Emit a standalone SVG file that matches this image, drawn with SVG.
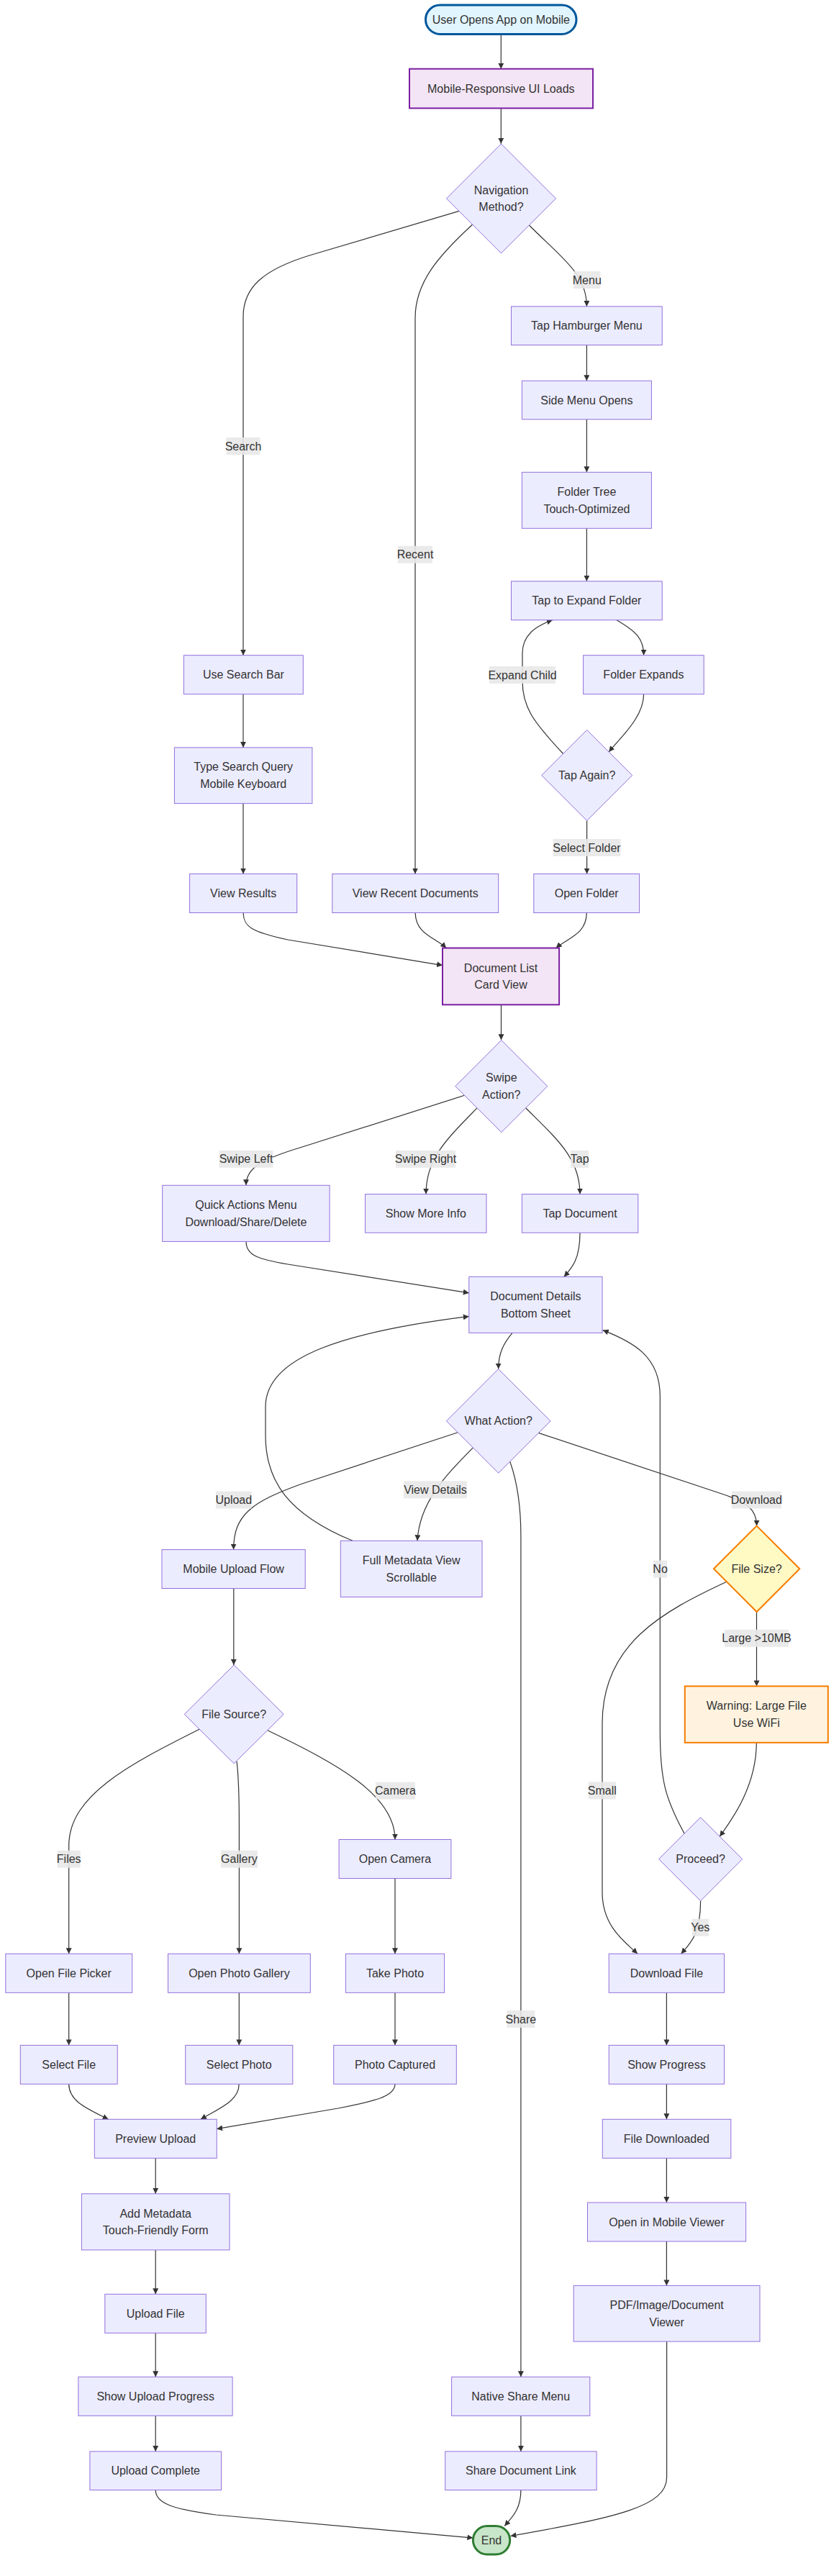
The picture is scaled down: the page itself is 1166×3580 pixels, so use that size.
<svg xmlns="http://www.w3.org/2000/svg" width="1166" height="3580" viewBox="0 0 1166 3580">
<style>
.n rect,.n polygon{fill:#ECECFF;stroke:#9370DB;stroke-width:1}
text{font-family:"trebuchet ms","Liberation Sans",Arial,sans-serif;font-size:16px;fill:#333;text-anchor:middle;dominant-baseline:central}
.e path{fill:none;stroke:#333;stroke-width:1.2;marker-end:url(#arr)}
.lb rect{fill:#e8e8e8;fill-opacity:0.9;stroke:none}
</style>
<defs>
<marker id="arr" viewBox="0 0 10 10" refX="10" refY="5" markerUnits="userSpaceOnUse" markerWidth="8" markerHeight="8" orient="auto"><path d="M0,0 L10,5 L0,10 z" fill="#333"/></marker>
</defs>
<rect width="1166" height="3580" fill="#ffffff"/>
<g id="edges" class="e">
<path d="M696.3,47.4 L696.3,95.7"/>
<path d="M696.3,150.4 L696.3,199.7"/>
<path d="M638,293.4 L430,355 C365,375 338,400 338,440 L338,910.7"/>
<path d="M656.6,312 C610,355 577,392 577,442 L577,1214.5"/>
<path d="M735.4,313 C780,358 815.4,380 815.4,425.9"/>
<path d="M815.4,479.5 L815.4,529.2"/>
<path d="M815.4,582.8 L815.4,656.3"/>
<path d="M815.4,734.3 L815.4,807.8"/>
<path d="M857,861.7 C885,878 894.6,888 894.6,910.7"/>
<path d="M894.6,964.7 C894.6,997 862,1025 846.2,1045"/>
<path d="M782.7,1047.5 C740,1002 726,982 726,946 L726,908 C726,882 745,870 767.8,861.7"/>
<path d="M815.6,1140.5 L815.6,1214.5"/>
<path d="M338,964.7 L338,1038.9"/>
<path d="M338,1116.6 L338,1214.5"/>
<path d="M338.2,1268.5 C338,1288 350,1295 400,1306 L615,1341.6"/>
<path d="M577.2,1268.5 C577.2,1298 605,1303 620.2,1317.5"/>
<path d="M815.2,1268.5 C815.2,1298 790,1303 772.6,1317.5"/>
<path d="M696.5,1396.3 L696.5,1445.3"/>
<path d="M645.5,1522.3 L420,1594 C360,1612 342,1624 342,1647.3"/>
<path d="M663,1539.8 C620,1584 592,1610 592,1659.6"/>
<path d="M730.6,1539.8 C775,1584 806,1610 806,1659.6"/>
<path d="M342,1725.4 C342,1745 360,1750 400,1757 L651.8,1796.9"/>
<path d="M806,1713.2 C806,1750 795,1762 783.8,1774.4"/>
<path d="M712,1852.4 C700,1867 692.7,1880 692.7,1902.6"/>
<path d="M636.2,1990.7 L420,2062 C350,2087 324.6,2105 324.6,2153.6"/>
<path d="M657.4,2011.9 C620,2050 583,2087 580,2141.3"/>
<path d="M490,2141.3 C400,2104 369,2058 369,1995 L369,1955 C369,1885 480,1851 651.8,1829.4"/>
<path d="M708.7,2031.2 C718,2057 723.9,2088 723.9,2135 L723.9,3303.3"/>
<path d="M748.5,1991.4 L1000,2075 C1040,2088 1051.6,2098 1051.6,2120.7"/>
<path d="M1051.5,2240 L1051.5,2343.4"/>
<path d="M1009.8,2198.2 C920,2240 837,2285 837,2395 L837,2630 C837,2678 870,2700 886,2715.3"/>
<path d="M1051.3,2421.8 C1051.3,2480 1020,2525 1000.2,2552.3"/>
<path d="M951.1,2548.2 C925,2500 917.3,2475 917.3,2405 L917.3,1940 C917.3,1885 880,1865 837.7,1848.6"/>
<path d="M973.6,2641.8 C973.6,2688 960,2700 946.6,2715.3"/>
<path d="M926.4,2769.3 L926.4,2842.4"/>
<path d="M926.4,2896.3 L926.4,2945.3"/>
<path d="M926.4,2999.3 L926.4,3061"/>
<path d="M926.4,3115 L926.4,3176.4"/>
<path d="M926.6,3254.1 L926.6,3443 C926.6,3483 860,3498 709.4,3524.5"/>
<path d="M723.9,3357.3 L723.9,3406.9"/>
<path d="M723.9,3460.5 C723.9,3487 712,3498 701.2,3510.5"/>
<path d="M216.2,3460.5 C216.2,3479 240,3487 300,3495 L657.4,3527.1"/>
<path d="M324.8,2207.5 L324.8,2313.9"/>
<path d="M277,2403.2 C180,2452 95.7,2495 95.7,2565 L95.7,2715.3"/>
<path d="M329,2447.8 C332,2472 332.4,2495 332.4,2535 L332.4,2715.3"/>
<path d="M371.8,2404.8 C470,2452 549,2495 549,2556.5"/>
<path d="M95.7,2769.3 L95.7,2842.4"/>
<path d="M332.3,2769.3 L332.3,2842.4"/>
<path d="M549,2610.5 L549,2715.3"/>
<path d="M549,2769.3 L549,2842.4"/>
<path d="M95.7,2896.3 C95.7,2920 120,2930 150.6,2945.3"/>
<path d="M332.2,2896.3 C332.2,2920 305,2930 278.9,2945.3"/>
<path d="M549,2896.3 C549,2914 520,2920 470,2930 L301.2,2958.7"/>
<path d="M216.2,2999.3 L216.2,3048.8"/>
<path d="M216.2,3126.9 L216.2,3188.3"/>
<path d="M216.2,3242.3 L216.2,3303.3"/>
<path d="M216.2,3357.3 L216.2,3406.9"/>
</g>
<g id="edge-labels" class="lb">
<g><rect x="797" y="377" width="37.5" height="24"/><text x="815.8" y="389">Menu</text></g>
<g><rect x="314.5" y="608" width="47" height="24"/><text x="338" y="620">Search</text></g>
<g><rect x="553" y="758.7" width="48" height="24"/><text x="577" y="770.7">Recent</text></g>
<g><rect x="680" y="926" width="92" height="24"/><text x="726" y="938">Expand Child</text></g>
<g><rect x="768.5" y="1166" width="94" height="24"/><text x="815.5" y="1178">Select Folder</text></g>
<g><rect x="304.5" y="1598.8" width="75" height="24"/><text x="342" y="1610.8">Swipe Left</text></g>
<g><rect x="550" y="1598.8" width="83" height="24"/><text x="591.5" y="1610.8">Swipe Right</text></g>
<g><rect x="793.2" y="1598.8" width="25" height="24"/><text x="805.7" y="1610.8">Tap</text></g>
<g><rect x="300" y="2072.5" width="49.5" height="24"/><text x="324.8" y="2084.5">Upload</text></g>
<g><rect x="561" y="2058.3" width="88" height="24"/><text x="605" y="2070.3">View Details</text></g>
<g><rect x="1016.8" y="2072.5" width="69" height="24"/><text x="1051.3" y="2084.5">Download</text></g>
<g><rect x="908" y="2168.6" width="19" height="24"/><text x="917.6" y="2180.6">No</text></g>
<g><rect x="1007" y="2264.8" width="89" height="24"/><text x="1051.5" y="2276.8">Large &gt;10MB</text></g>
<g><rect x="704.4" y="2794" width="39" height="24"/><text x="723.9" y="2806">Share</text></g>
<g><rect x="817.8" y="2476.4" width="38" height="24"/><text x="836.8" y="2488.4">Small</text></g>
<g><rect x="961.8" y="2666.8" width="23" height="24"/><text x="973.3" y="2678.8">Yes</text></g>
<g><rect x="79.7" y="2571.7" width="32" height="24"/><text x="95.7" y="2583.7">Files</text></g>
<g><rect x="306.9" y="2571.7" width="51" height="24"/><text x="332.4" y="2583.7">Gallery</text></g>
<g><rect x="521.9" y="2476.6" width="55" height="24"/><text x="549.4" y="2488.6">Camera</text></g>
</g>
<g id="start" class="n"><rect x="591.5" y="6.9" width="209.5" height="40.5" rx="20.2" style="fill:#e1f5fe;stroke:#01579b;stroke-width:3"/><text x="696.3" y="27.2">User Opens App on Mobile</text></g>
<g id="uiLoads" class="n"><rect x="569" y="95.7" width="255" height="54.7" style="fill:#f3e5f5;stroke:#7b1fa2;stroke-width:2"/><text x="696.3" y="123">Mobile-Responsive UI Loads</text></g>
<g id="navMethod" class="n"><polygon points="696.5,199.9 772.5,275.9 696.5,351.9 620.5,275.9"/><text x="696.5" y="264">Navigation</text><text x="696.5" y="287.8">Method?</text></g>
<g id="tapHamburger" class="n"><rect x="710.5" y="425.9" width="209.7" height="53.6"/><text x="815.4" y="452.7">Tap Hamburger Menu</text></g>
<g id="sideMenu" class="n"><rect x="725.4" y="529.2" width="180" height="53.6"/><text x="815.4" y="556">Side Menu Opens</text></g>
<g id="folderTree" class="n"><rect x="725.4" y="656.3" width="180" height="78"/><text x="815.4" y="683.4">Folder Tree</text><text x="815.4" y="707.2">Touch-Optimized</text></g>
<g id="tapExpand" class="n"><rect x="710.5" y="807.8" width="209.7" height="53.9"/><text x="815.4" y="834.8">Tap to Expand Folder</text></g>
<g id="folderExpands" class="n"><rect x="810.6" y="910.7" width="167.6" height="54"/><text x="894.4" y="937.7">Folder Expands</text></g>
<g id="tapAgain" class="n"><polygon points="815.7,1014.5 878.7,1077.5 815.7,1140.5 752.7,1077.5"/><text x="815.7" y="1077.5">Tap Again?</text></g>
<g id="useSearch" class="n"><rect x="255.4" y="910.7" width="165.9" height="54"/><text x="338.4" y="937.7">Use Search Bar</text></g>
<g id="typeSearch" class="n"><rect x="242.4" y="1038.9" width="191.5" height="77.7"/><text x="338.2" y="1065.9">Type Search Query</text><text x="338.2" y="1089.7">Mobile Keyboard</text></g>
<g id="viewResults" class="n"><rect x="263.6" y="1214.5" width="149.1" height="54"/><text x="338.2" y="1241.5">View Results</text></g>
<g id="viewRecent" class="n"><rect x="461.8" y="1214.5" width="230.9" height="54"/><text x="577.2" y="1241.5">View Recent Documents</text></g>
<g id="openFolder" class="n"><rect x="741.8" y="1214.5" width="146.8" height="54"/><text x="815.2" y="1241.5">Open Folder</text></g>
<g id="docList" class="n"><rect x="615" y="1317.5" width="162.1" height="78.8" style="fill:#f3e5f5;stroke:#7b1fa2;stroke-width:2"/><text x="696" y="1345">Document List</text><text x="696" y="1368.8">Card View</text></g>
<g id="swipeAction" class="n"><polygon points="696.8,1445.6 760.8,1509.6 696.8,1573.6 632.8,1509.6"/><text x="696.8" y="1497.7">Swipe</text><text x="696.8" y="1521.5">Action?</text></g>
<g id="quickActions" class="n"><rect x="225.7" y="1647.3" width="232.4" height="78.1"/><text x="341.9" y="1674.5">Quick Actions Menu</text><text x="341.9" y="1698.3">Download/Share/Delete</text></g>
<g id="showMoreInfo" class="n"><rect x="507.5" y="1659.6" width="168.5" height="53.6"/><text x="591.8" y="1686.4">Show More Info</text></g>
<g id="tapDocument" class="n"><rect x="725.4" y="1659.6" width="161.4" height="53.6"/><text x="806" y="1686.4">Tap Document</text></g>
<g id="docDetails" class="n"><rect x="651.8" y="1774.4" width="185.2" height="78"/><text x="744.4" y="1801.5">Document Details</text><text x="744.4" y="1825.3">Bottom Sheet</text></g>
<g id="whatAction" class="n"><polygon points="692.7,1902.6 765,1974.9 692.7,2047.2 620.4,1974.9"/><text x="692.7" y="1974.9">What Action?</text></g>
<g id="mobileUpload" class="n"><rect x="225" y="2153.6" width="199.2" height="53.9"/><text x="324.6" y="2180.5">Mobile Upload Flow</text></g>
<g id="fullMetadata" class="n"><rect x="473.3" y="2141.3" width="196.7" height="78.1"/><text x="571.7" y="2168.5">Full Metadata View</text><text x="571.7" y="2192.3">Scrollable</text></g>
<g id="fileSize" class="n"><polygon points="1051.6,2120.6 1111.3,2180.3 1051.6,2240 991.9,2180.3" style="fill:#fff9c4;stroke:#f57c00;stroke-width:2"/><text x="1051.6" y="2180.3">File Size?</text></g>
<g id="warning" class="n"><rect x="951.8" y="2343.4" width="199" height="78.4" style="fill:#fff3e0;stroke:#f57c00;stroke-width:2"/><text x="1051.3" y="2370.7">Warning: Large File</text><text x="1051.3" y="2394.5">Use WiFi</text></g>
<g id="proceed" class="n"><polygon points="973.6,2525.7 1031.6,2583.7 973.6,2641.7 915.6,2583.7"/><text x="973.6" y="2583.7">Proceed?</text></g>
<g id="fileSource" class="n"><polygon points="325.2,2313.9 394.2,2382.4 325.2,2450.9 256.2,2382.4"/><text x="325.2" y="2382.4">File Source?</text></g>
<g id="openCamera" class="n"><rect x="471.1" y="2556.5" width="155.8" height="54"/><text x="549" y="2583.5">Open Camera</text></g>
<g id="openFilePicker" class="n"><rect x="7.8" y="2715.3" width="175.9" height="54"/><text x="95.7" y="2742.3">Open File Picker</text></g>
<g id="openGallery" class="n"><rect x="233.5" y="2715.3" width="197.8" height="54"/><text x="332.4" y="2742.3">Open Photo Gallery</text></g>
<g id="takePhoto" class="n"><rect x="480.4" y="2715.3" width="137.2" height="54"/><text x="549" y="2742.3">Take Photo</text></g>
<g id="selectFile" class="n"><rect x="28.3" y="2842.4" width="134.9" height="53.9"/><text x="95.7" y="2869.4">Select File</text></g>
<g id="selectPhoto" class="n"><rect x="257.7" y="2842.4" width="149.1" height="53.9"/><text x="332.2" y="2869.4">Select Photo</text></g>
<g id="photoCaptured" class="n"><rect x="463.7" y="2842.4" width="170.6" height="53.9"/><text x="549" y="2869.4">Photo Captured</text></g>
<g id="previewUpload" class="n"><rect x="131.3" y="2945.3" width="169.9" height="54"/><text x="216.2" y="2972.3">Preview Upload</text></g>
<g id="addMetadata" class="n"><rect x="113.4" y="3048.8" width="205.6" height="78.1"/><text x="216.2" y="3076">Add Metadata</text><text x="216.2" y="3099.8">Touch-Friendly Form</text></g>
<g id="uploadFile" class="n"><rect x="145.8" y="3188.3" width="140.5" height="54"/><text x="216.2" y="3215.3">Upload File</text></g>
<g id="showUploadProgress" class="n"><rect x="108.9" y="3303.3" width="214.2" height="54"/><text x="216.2" y="3330.3">Show Upload Progress</text></g>
<g id="uploadComplete" class="n"><rect x="124.9" y="3406.9" width="182.6" height="53.6"/><text x="216.2" y="3433.7">Upload Complete</text></g>
<g id="downloadFile" class="n"><rect x="846.2" y="2715.3" width="160.3" height="54"/><text x="926.4" y="2742.3">Download File</text></g>
<g id="showProgress" class="n"><rect x="846.2" y="2842.4" width="160.3" height="53.9"/><text x="926.4" y="2869.4">Show Progress</text></g>
<g id="fileDownloaded" class="n"><rect x="837.3" y="2945.3" width="178.5" height="54"/><text x="926.4" y="2972.3">File Downloaded</text></g>
<g id="openViewer" class="n"><rect x="816.5" y="3061" width="220.1" height="54"/><text x="926.5" y="3088">Open in Mobile Viewer</text></g>
<g id="pdfViewer" class="n"><rect x="797.2" y="3176.4" width="258.8" height="77.7"/><text x="926.6" y="3203.4">PDF/Image/Document</text><text x="926.6" y="3227.2">Viewer</text></g>
<g id="nativeShare" class="n"><rect x="627.6" y="3303.3" width="192.2" height="54"/><text x="723.7" y="3330.3">Native Share Menu</text></g>
<g id="shareLink" class="n"><rect x="618.7" y="3406.9" width="210.4" height="53.6"/><text x="723.9" y="3433.7">Share Document Link</text></g>
<g id="end" class="n"><rect x="657.4" y="3510.5" width="51.3" height="39.5" rx="19.7" style="fill:#c8e6c9;stroke:#2e7d32;stroke-width:3"/><text x="683" y="3530.3">End</text></g>
</svg>
